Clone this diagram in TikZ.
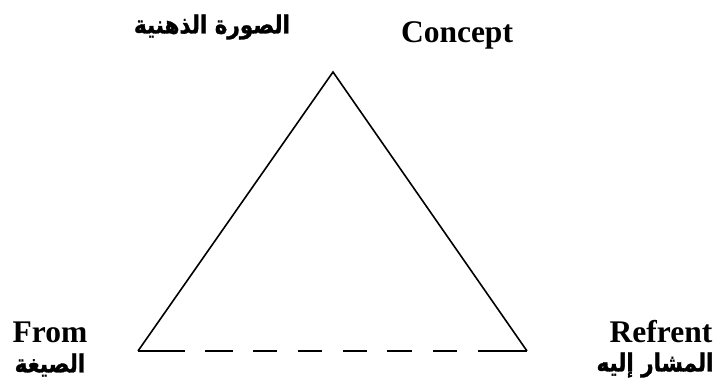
\documentclass[tikz,border=0pt]{standalone}
\usepackage{fontspec}
\setmainfont{Liberation Serif}
\newfontfamily\arabicfont[Script=Arabic, FakeStretch=0.86, BoldFeatures={FakeBold=1.2}]{DejaVu Sans}
\TeXXeTstate=1
\begin{document}
\begin{tikzpicture}[x=1pt,y=-1pt,
  lat/.style={font=\fontsize{31.5}{34}\selectfont\bfseries, inner sep=0pt, anchor=base},
  ar/.style={font=\arabicfont\fontsize{25}{29}\selectfont\bfseries, inner sep=0pt},
  edge/.style={line width=1.6pt, line join=miter}]
\useasboundingbox (0,0) rectangle (715,382);
\coordinate (A) at (333,72);
\coordinate (L) at (138,351);
\coordinate (R) at (527,351);
\draw[edge] (L) -- (A) -- (R);
\draw[edge, dash pattern=on 47pt off 20pt on 28pt off 20pt on 24pt off 21pt on 24pt off 21pt on 24pt off 20pt on 25pt off 21pt on 24pt off 21pt on 49pt off 50pt] (L) -- (R);
\node[lat] (concept) at (457,43) {Concept};
\node[ar] (conceptar) at (212,27) {\beginR الصورة الذهنية\endR};
\node[lat] (from) at (50,342) {From};
\node[ar] (fromar) at (50,365) {\beginR الصيغة\endR};
\node[lat] (ref) at (661,342) {Refrent};
\node[ar] (refar) at (655,365) {\beginR المشار إليه\endR};
\end{tikzpicture}
\end{document}
